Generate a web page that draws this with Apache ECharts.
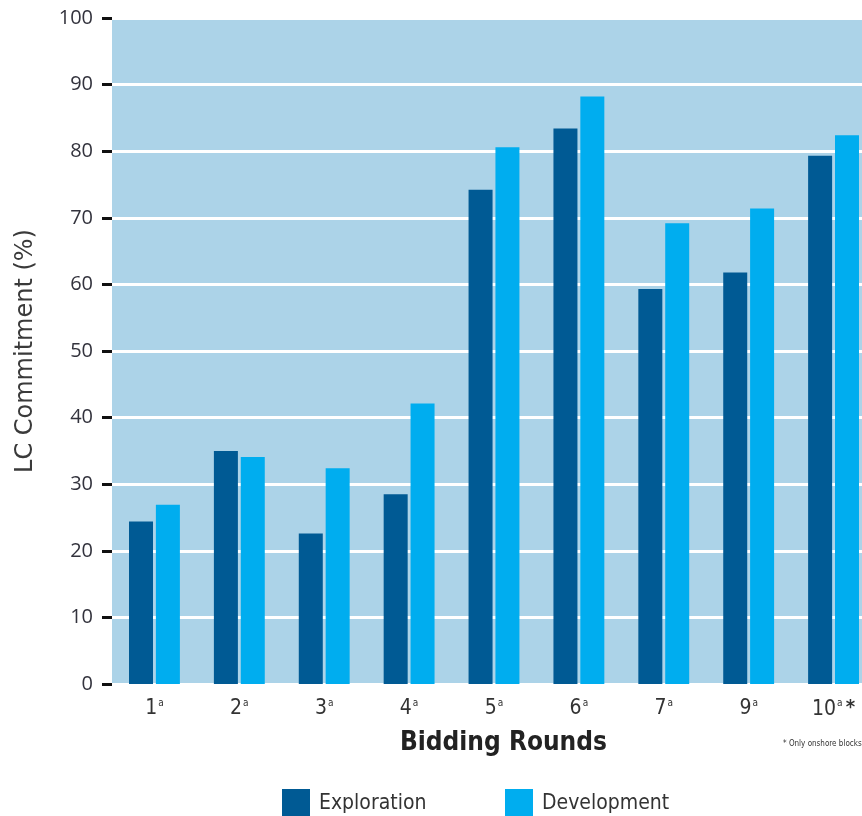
<!DOCTYPE html>
<html>
<head>
<meta charset="utf-8">
<script src="https://cdn.jsdelivr.net/npm/echarts@6/dist/echarts.min.js"></script>
<style>
  html, body { margin: 0; padding: 0; background: #fff; }
  #chart { width: 862px; height: 816px; }
</style>
</head>
<body>
<div id="chart"></div>
<script>
// bidding rounds (8 is missing in the source)
const rounds = ["1", "2", "3", "4", "5", "6", "7", "9", "10"];
const exploration = [24.4, 35.0, 22.6, 28.5, 74.2, 83.4, 59.3, 61.8, 79.3];
const development = [26.9, 34.1, 32.4, 42.1, 80.6, 88.2, 69.2, 71.4, 82.4];
const yTicks = [0, 10, 20, 30, 40, 50, 60, 70, 80, 90, 100];

const narrow = "'Liberation Sans Narrow', 'DejaVu Sans Condensed', sans-serif";
const tickFont = "'Open Sans', 'Noto Sans', sans-serif";

const myChart = echarts.init(document.getElementById("chart"));

const option = {
  animation: false,
  grid: {
    left: 112,
    top: 18,
    bottom: 132,
    width: 764,
    outerBoundsMode: "none",
    containLabel: false,
    show: true,
    backgroundColor: "#acd3e8",
    borderWidth: 0,
  },
  legend: [
    {
      left: 277,
      top: 784,
      itemWidth: 28,
      itemHeight: 30,
      icon: "rect",
      data: ["Exploration"],
      textStyle: { fontFamily: narrow, fontSize: 21, color: "#333", padding: [0, 0, 0, 4] },
    },
    {
      left: 500,
      top: 784,
      itemWidth: 28,
      itemHeight: 30,
      icon: "rect",
      data: ["Development"],
      textStyle: { fontFamily: narrow, fontSize: 21, color: "#333", padding: [0, 0, 0, 4] },
    },
  ],
  xAxis: {
    type: "category",
    data: rounds,
    axisLine: { show: false },
    axisTick: { show: false },
    axisLabel: {
      interval: 0,
      margin: 14,
      formatter: (v) => (v === "10" ? `{n|${v}}{s|a}{st|*}` : `{n|${v}}{s|a}`),
      rich: {
        n: { fontFamily: narrow, fontSize: 21, color: "#333" },
        s: { fontFamily: narrow, fontSize: 10, color: "#333", verticalAlign: "top", padding: [0, 0, 8, 1] },
        st: { fontFamily: narrow, fontSize: 20, color: "#333", fontWeight: "bold", padding: [0, 0, 4, 3] },
      },
    },
  },
  yAxis: {
    type: "value",
    min: yTicks[0],
    max: yTicks[yTicks.length - 1],
    interval: 10,
    name: "LC Commitment (%)",
    nameLocation: "middle",
    nameGap: 74,
    nameTextStyle: { fontFamily: "'DejaVu Sans', sans-serif", fontSize: 24, color: "#3a3a3a" },
    axisLine: { show: false },
    axisTick: { show: true, inside: false, length: 10, lineStyle: { color: "#111", width: 3 } },
    axisLabel: { margin: 19, fontFamily: tickFont, fontSize: 20, color: "#33333d" },
    splitLine: { show: true, lineStyle: { color: "#ffffff", width: 3 } },
  },
  graphic: [
    {
      type: "text",
      left: 400,
      top: 730,
      style: { text: "Bidding Rounds", fontFamily: narrow, fontSize: 26, fontWeight: "bold", fill: "#222" },
    },
    {
      type: "text",
      left: 783,
      top: 740,
      style: { text: "* Only onshore blocks", fontFamily: narrow, fontSize: 8, fill: "#333" },
    },
  ],
  series: [
    {
      name: "Exploration",
      type: "bar",
      data: exploration,
      barWidth: 24,
      barGap: "12%",
      itemStyle: { color: "#005a94" },
    },
    {
      name: "Development",
      type: "bar",
      data: development,
      barWidth: 24,
      itemStyle: { color: "#00adef" },
    },
  ],
};

myChart.setOption(option);
</script>
</body>
</html>
